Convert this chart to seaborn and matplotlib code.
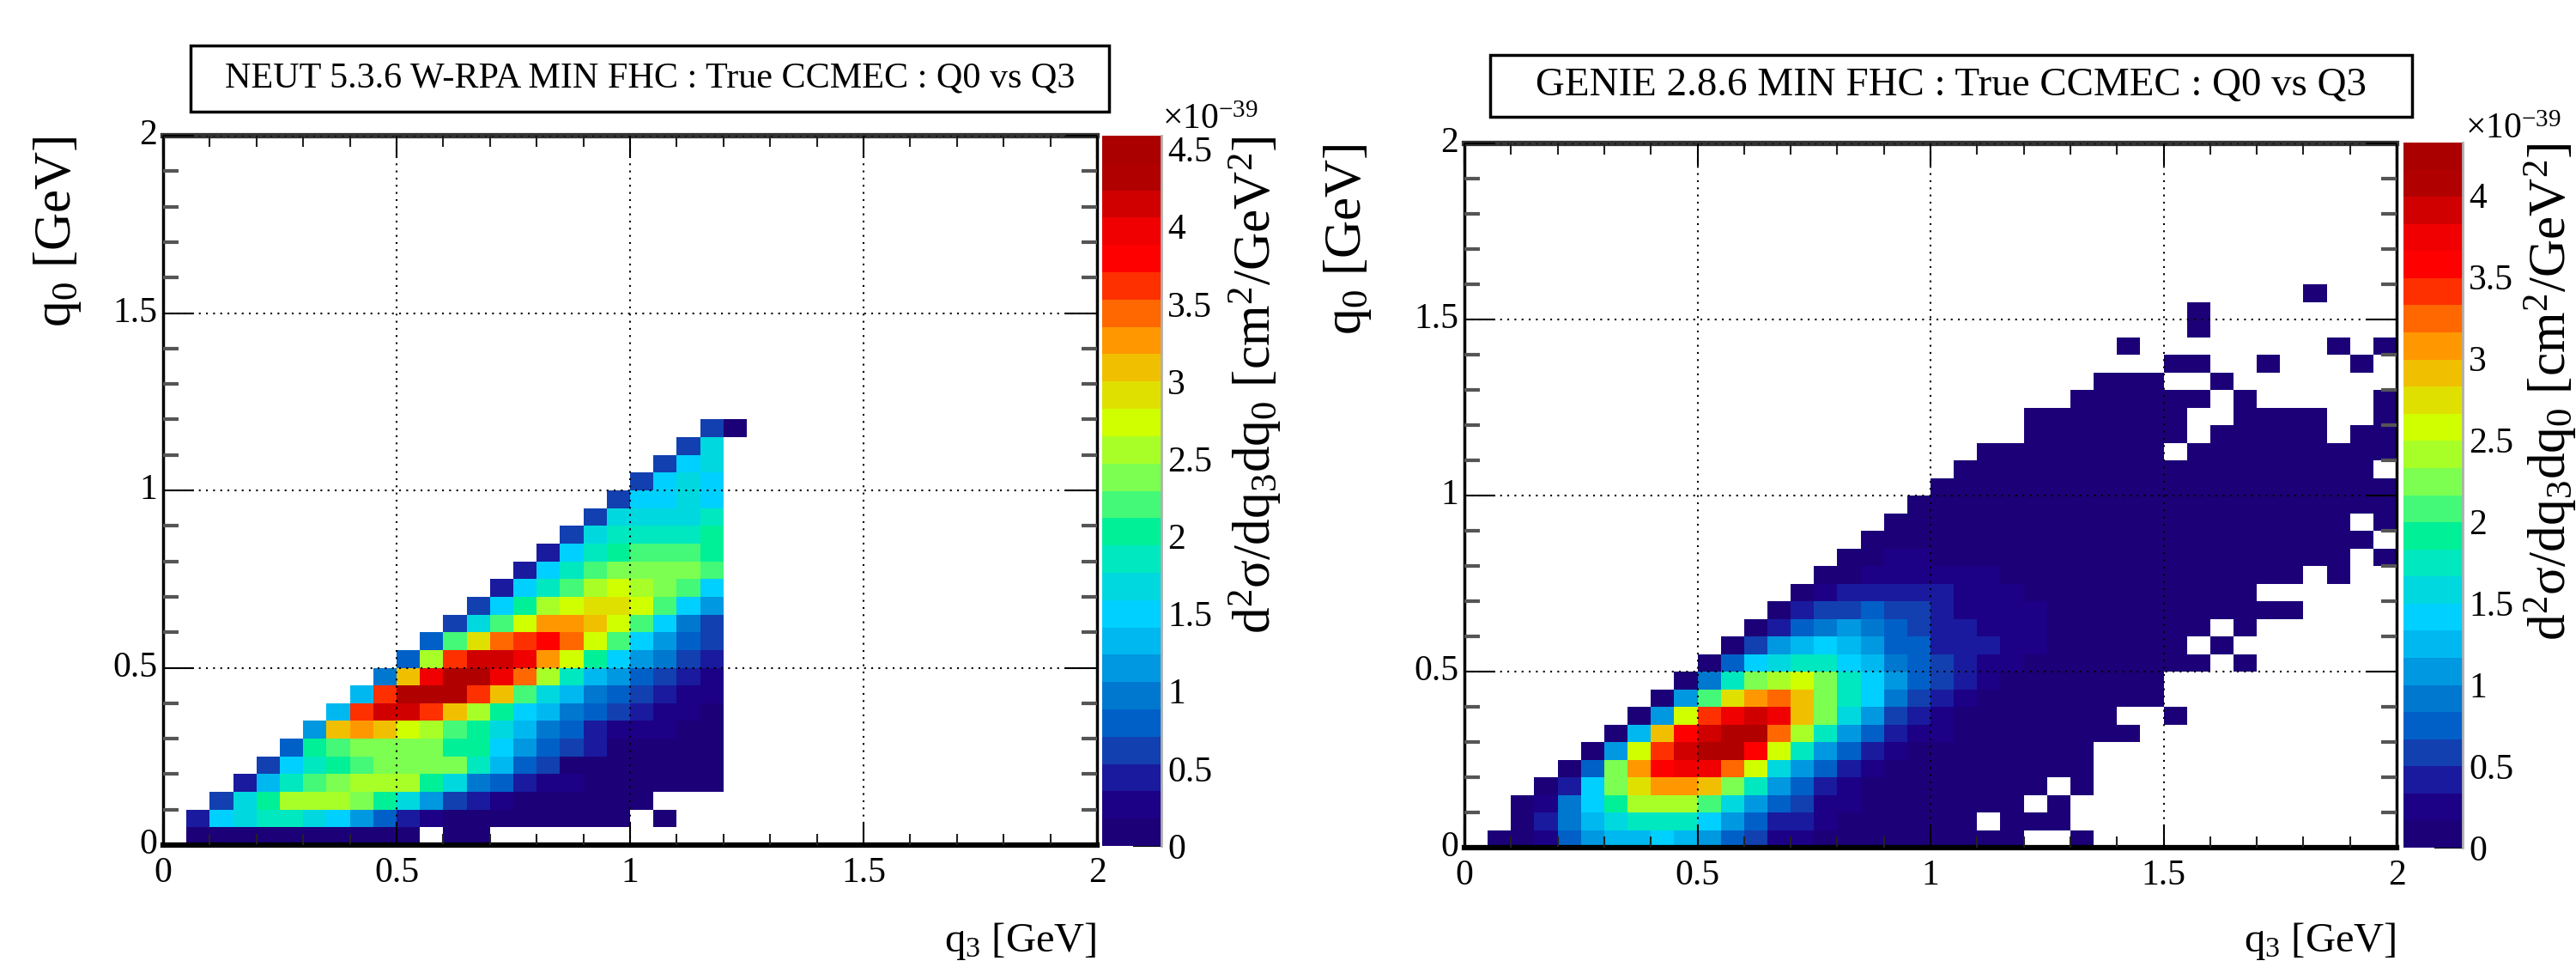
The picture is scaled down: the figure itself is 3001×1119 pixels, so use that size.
import numpy as np
import pandas as pd
import matplotlib
matplotlib.use("Agg")
import matplotlib.pyplot as plt
from matplotlib.colors import ListedColormap
from matplotlib.patches import Rectangle
import seaborn as sns

_ = np.nan

# d2sigma/dq3dq0 in units of 1e-39, read bin by bin (rows q0 from 0, columns q3 from 0, 0.05 GeV bins)
neut_z = [
    [_] * 1 + [.09] * 10 + [_, .09, .09],
    [_] * 1 + [.44, 1.5, 1.68, 1.85, 1.85, 1.68, 1.5, 1.15, .79, .44, .26] + [.09] * 8 + [_, .09],
    [_] * 2 + [.62, 1.68, 2.03, 2.56, 2.56, 2.56, 2.38, 2.03, 1.68, 1.15, .62, .44, .26] + [.09] * 6,
    [_] * 3 + [.44, 1.32, 1.85, 2.2, 2.38, 2.56, 2.56, 2.56, 2.03, 1.68, .97, .79, .44, .26, .26] + [.09] * 6,
    [_] * 4 + [.62, 1.5, 1.85, 2.03, 2.2, 2.38, 2.38, 2.38, 2.38, 1.85, 1.32, .79, .62] + [.09] * 7,
    [_] * 5 + [.79, 2.03, 2.2, 2.38, 2.38, 2.38, 2.38, 2.03, 2.03, 1.5, 1.15, .79, .62, .44] + [.09] * 5,
    [_] * 6 + [1.15, 3.09, 3.26, 3.09, 2.73, 2.56, 2.2, 2.03, 1.68, 1.32, .97, .79, .44, .26, .26, .26, .09, .09],
    [_] * 7 + [1.32, 3.62, 4.15, 4.15, 3.62, 3.09, 2.56, 2.03, 1.5, 1.32, .97, .79, .62, .44, .26, .26, .09],
    [_] * 8 + [1.32, 3.62, 4.32, 4.32, 4.32, 3.62, 3.09, 2.2, 1.68, 1.32, .97, .79, .62, .44, .26, .26],
    [_] * 9 + [.97, 3.09, 3.97, 4.32, 4.32, 3.97, 3.44, 2.56, 1.85, 1.32, 1.15, .79, .62, .44, .26],
    [_] * 10 + [.79, 2.56, 3.62, 4.15, 4.15, 3.97, 3.26, 2.73, 2.03, 1.5, 1.15, .97, .62, .44],
    [_] * 11 + [.79, 2.2, 2.91, 3.44, 3.62, 3.79, 3.44, 2.73, 2.2, 1.5, 1.15, .79, .62],
    [_] * 12 + [.62, 1.68, 2.2, 2.73, 3.26, 3.26, 3.09, 2.73, 2.2, 1.5, .97, .62],
    [_] * 13 + [.62, 1.5, 2.03, 2.56, 2.73, 2.91, 2.91, 2.73, 2.2, 1.5, 1.15],
    [_] * 14 + [.44, 1.5, 1.85, 2.2, 2.56, 2.73, 2.56, 2.38, 2.2, 1.5],
    [_] * 15 + [.44, 1.5, 1.85, 2.2, 2.38, 2.38, 2.38, 2.38, 2.2],
    [_] * 16 + [.44, 1.5, 1.85, 2.03, 2.2, 2.2, 2.2, 2.03],
    [_] * 17 + [.62, 1.68, 1.85, 1.85, 1.85, 1.85, 2.03],
    [_] * 18 + [.62, 1.68, 1.68, 1.68, 1.68, 1.85],
    [_] * 19 + [.62, 1.5, 1.5, 1.68, 1.5],
    [_] * 20 + [.62, 1.5, 1.68, 1.5],
    [_] * 21 + [.62, 1.5, 1.68],
    [_] * 22 + [.62, 1.68],
    [_] * 23 + [.62, .09],
]

genie_z = [
    [_] * 1 + [.08, .08, .25, .75, 1.08, 1.25, 1.25, 1.41, 1.25, 1.08, .75, .58, .25, .25] + [.08] * 9 + [_, _, .08],
    [_] * 2 + [.08, .42, .91, 1.25, 1.58, 1.74, 1.74, 1.74, 1.41, 1.08, .75, .42, .42, .25] + [.08] * 6 + [_, .08, .08, .08],
    [_] * 2 + [.08, .25, .91, 1.41, 1.91, 2.41, 2.41, 2.41, 2.08, 1.58, 1.08, .75, .58, .25, .25] + [.08] * 7 + [_, .08],
    [_] * 3 + [.08, .42, 1.41, 2.24, 2.74, 3.07, 3.07, 2.91, 2.24, 1.74, 1.08, .75, .42, .25] + [.08] * 8 + [_, .08],
    [_] * 4 + [.08, .75, 2.24, 3.07, 3.57, 3.74, 3.74, 3.24, 2.57, 1.58, 1.08, .75, .42, .25] + [.08] * 9,
    [_] * 5 + [.08, 1.08, 2.57, 3.4, 3.9, 4.07, 4.07, 3.57, 2.57, 1.74, 1.08, .75, .42, .25] + [.08] * 8,
    [_] * 6 + [.08, 1.25, 2.91, 3.57, 3.9, 4.07, 4.07, 3.24, 2.41, 1.74, 1.08, .75, .42, .25, .25] + [.08] * 8,
    [_] * 7 + [.08, 1.08, 2.57, 3.4, 3.74, 3.9, 3.74, 2.91, 2.24, 1.58, 1.08, .58, .42, .25] + [.08] * 7 + [_, _, .08],
    [_] * 8 + [.08, 1.08, 2.08, 2.74, 3.07, 3.24, 2.91, 2.24, 1.74, 1.41, .91, .58, .42, .25] + [.08] * 8,
    [_] * 9 + [.08, .91, 1.74, 2.24, 2.41, 2.57, 2.24, 1.74, 1.41, 1.08, .75, .58, .42, .25] + [.08] * 7,
    [_] * 10 + [.08, .75, 1.41, 1.58, 1.74, 1.74, 1.41, 1.25, .91, .75, .58, .42, .25, .25] + [.08] * 8 + [_, .08],
    [_] * 11 + [.08, .58, 1.08, 1.25, 1.41, 1.25, 1.08, .75, .75, .42, .42, .42, .25, .25] + [.08] * 6 + [_, .08],
    [_] * 12 + [.08, .42, .75, .91, 1.08, .91, .75, .58, .42, .42, .25, .25, .25] + [.08] * 7 + [_, .08],
    [_] * 13 + [.08, .42, .58, .58, .75, .58, .58, .42, .25, .25, .25, .25] + [.08] * 11,
    [_] * 14 + [.08, .25, .42, .42, .42, .42, .42, .25, .25, .25] + [.08] * 10,
    [_] * 15 + [.08, .08, .25, .25, .25, .25, .25, .25] + [.08] * 13 + [_, .08],
    [_] * 16 + [.08, .08, .25, .25] + [.08] * 18 + [_, .08],
    [_] * 17 + [.08] * 22,
    [_] * 18 + [.08] * 20 + [_, .08],
    [_] * 19 + [.08] * 21,
    [_] * 20 + [.08] * 20,
    [_] * 21 + [.08] * 18,
    [_] * 22 + [.08] * 8 + [_] + [.08] * 9,
    [_] * 24 + [.08] * 7 + [_] + [.08] * 5 + [_] + [.08] * 2,
    [_] * 24 + [.08] * 7 + [_, _] + [.08] * 4 + [_, _, .08],
    [_] * 26 + [.08] * 6 + [_, .08] + [_] * 5 + [.08],
    [_] * 27 + [.08] * 3 + [_, _, .08],
    [_] * 30 + [.08, .08, _, _, .08, _, _, _, .08],
    [_] * 28 + [.08] + [_] * 8 + [.08, _, .08],
    [_] * 31 + [.08],
    [_] * 31 + [.08],
    [_] * 36 + [.08],
]

q3_labels = ["0", "0.5", "1", "1.5", "2"]
q0_labels = ["0", "0.5", "1", "1.5", "2"]
neut_cbar_ticks = [0, 0.5, 1, 1.5, 2, 2.5, 3, 3.5, 4, 4.5]
genie_cbar_ticks = [0, 0.5, 1, 1.5, 2, 2.5, 3, 3.5, 4]
neut_zmax = 4.586
genie_zmax = 4.32
neut_title = "NEUT 5.3.6 W-RPA MIN FHC : True CCMEC : Q0 vs Q3"
genie_title = "GENIE 2.8.6 MIN FHC : True CCMEC : Q0 vs Q3"

# 26 contour bands as in the colour bars
band_colors = [
    "#1c0078", "#1c0086", "#1a1a9e", "#1240b0", "#0060c8", "#0078d0", "#0098e0",
    "#00b8f0", "#00d0ff", "#00d8e0", "#00e8c0", "#00f098", "#44f878", "#7cff50",
    "#a8ff28", "#d0ff00", "#e0e000", "#f0c000", "#ff9800", "#ff6800", "#ff3000",
    "#ff0000", "#f00000", "#d00000", "#b00000", "#aa0000",
]

W, H = 3001, 1119

sns.set_theme(style="white")
plt.rcParams["font.family"] = ["Liberation Serif", "DejaVu Serif"]
plt.rcParams["mathtext.fontset"] = "custom"
plt.rcParams["mathtext.rm"] = "Liberation Serif"
plt.rcParams["mathtext.it"] = "Liberation Serif:italic"
plt.rcParams["mathtext.default"] = "rm"

fig = plt.figure(figsize=(W / 100, H / 100), dpi=100, facecolor="white")


def px_rect(left, top, right, bottom):
    return [left / W, 1 - bottom / H, (right - left) / W, (bottom - top) / H]


def to_frame(rows):
    table = np.full((40, 40), np.nan)
    for i, row in enumerate(rows):
        table[i, :len(row)] = row
    return pd.DataFrame(table)


def draw_panel(z, zmax, cbar_ticks, title, title_size, ax_box, cbar_box, title_box, q0_x, cbar_label_x, exp_x, exp_y):
    ax = fig.add_axes(px_rect(*ax_box))
    cax = fig.add_axes(px_rect(*cbar_box))
    data = to_frame(z)
    sns.heatmap(
        data,
        ax=ax,
        cbar_ax=cax,
        mask=data.isna(),
        cmap=ListedColormap(band_colors),
        vmin=0,
        vmax=zmax,
        cbar_kws=dict(ticks=cbar_ticks),
    )
    ax.set_ylim(0, 40)
    ax.set_xlim(0, 40)
    ax.set_xlabel("")
    ax.set_ylabel("")

    # ticks every 0.5 with minors every 0.1, on all four sides
    ax.set_xticks(np.arange(0, 41, 10))
    ax.set_yticks(np.arange(0, 41, 10))
    ax.set_xticklabels(q3_labels, rotation=0)
    ax.set_yticklabels(q0_labels, rotation=0)
    ax.set_xticks(np.arange(0, 41, 2), minor=True)
    ax.set_yticks(np.arange(0, 41, 2), minor=True)
    ax.tick_params(axis="x", which="major", direction="in", length=19, width=1.5, top=True, bottom=True,
                   color="black", labelsize=30, pad=10, labelcolor="black")
    ax.tick_params(axis="x", which="minor", direction="in", length=9.5, width=1.5, top=True, bottom=True, color="#222222")
    ax.tick_params(axis="y", which="major", direction="in", length=26, width=1.5, left=True, right=True,
                   color="black", labelsize=30, pad=5, labelcolor="black")
    ax.tick_params(axis="y", which="minor", direction="in", length=13, width=3, left=True, right=True, color="#555555")
    ax.set_axisbelow(False)
    ax.grid(True, which="major", color="black", linestyle=(0, (1, 3)), linewidth=1.5)
    for spine in ax.spines.values():
        spine.set_visible(True)
        spine.set_color("black")
        spine.set_linewidth(2.5)
    ax.spines["bottom"].set_linewidth(4.5)
    ax.spines["top"].set_color("#333333")
    ax.spines["top"].set_linewidth(4.5)

    cax.tick_params(axis="y", direction="in", length=24, width=1.5, left=False, right=True,
                    color="black", labelsize=30, pad=5, labelcolor="black")
    cax.set_yticklabels([f"{t:g}" for t in cbar_ticks])
    cax.spines["right"].set_visible(True)
    cax.spines["right"].set_color("#b0b0b0")
    cax.spines["right"].set_linewidth(2)

    # boxed title
    left, top, right, bottom = title_box
    fig.add_artist(Rectangle((left / W, 1 - bottom / H), (right - left) / W, (bottom - top) / H,
                             transform=fig.transFigure, fill=False, edgecolor="black", linewidth=2.5))
    fig.text((left + right) / 2 / W, 1 - (top + bottom) / 2 / H, title, fontsize=title_size,
             ha="center", va="center", color="black")

    fig.text(ax_box[2] / W, 1 - 1108 / H, r"q$_{3}$ [GeV]", fontsize=35, ha="right", va="baseline", color="black")
    fig.text(q0_x / W, 1 - ax_box[1] / H, r"q$_{0}$ [GeV]", fontsize=44, rotation=90, ha="center", va="top", color="black")
    fig.text(cbar_label_x / W, 1 - cbar_box[1] / H, r"d$^{2}$σ/dq$_{3}$dq$_{0}$ [cm$^{2}$/GeV$^{2}$]", fontsize=44,
             rotation=90, ha="center", va="top", color="black")
    fig.text(exp_x / W, 1 - exp_y / H, r"×10$^{-39}$", fontsize=30, ha="left", va="baseline", color="black")


draw_panel(neut_z, neut_zmax, neut_cbar_ticks, neut_title, 30.3,
           (190, 158, 1278, 984), (1284, 158, 1353, 985), (222, 53, 1292, 130),
           67, 1463, 1354, 150)
draw_panel(genie_z, genie_zmax, genie_cbar_ticks, genie_title, 33.8,
           (1706, 167, 2792, 987), (2800, 166, 2869, 987), (1736, 64, 2810, 136),
           1570, 2972, 2872, 161)

fig.savefig("out.png", dpi=100, facecolor="white")
